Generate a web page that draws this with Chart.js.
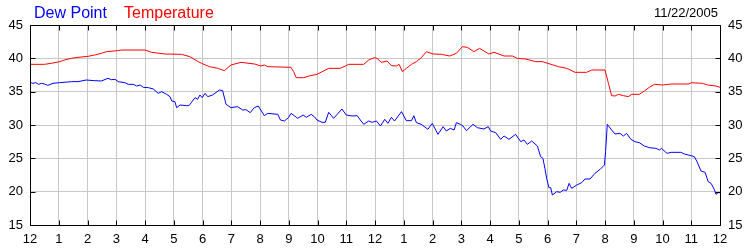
<!DOCTYPE html>
<html>
<head>
<meta charset="utf-8">
<title>Dew Point / Temperature</title>
<script src="https://cdn.jsdelivr.net/npm/chart.js@4"></script>
<style>
  body{margin:0;background:#fff;}
  #wrap{width:750px;height:250px;}
</style>
</head>
<body>
<div id="wrap"><canvas id="weatherChart" width="750" height="250"></canvas></div>
<script>
'use strict';

// hour labels for the x axis (midnight to midnight)
let hourLabels=['12','1','2','3','4','5','6','7','8','9','10','11','12','1','2','3','4','5','6','7','8','9','10','11','12'];
let yTicks=[15,20,25,30,35,40,45];
let dateText='11/22/2005';

// Temperature readings (hours since midnight, deg F)
let tempHours=[0,0.5,0.74,1.03,1.2,1.44,1.67,2.02,2.25,2.48,2.66,3.04,3.19,4.0,4.23,4.7,5.27,5.56,5.85,5.97,
  6.24,6.53,6.76,6.99,7.34,7.81,8.03,8.15,8.27,9.08,9.17,9.26,9.52,9.75,9.98,10.21,10.39,10.79,10.97,11.08,
  11.61,11.78,11.98,12.07,12.22,12.42,12.57,12.74,12.84,12.95,13.09,13.27,13.44,13.61,13.79,14.02,14.31,14.6,14.83,15.04,
  15.21,15.44,15.64,15.96,16.14,16.49,16.78,16.95,17.24,17.59,17.82,18.05,18.38,18.67,18.96,19.36,19.54,20.0,20.12,20.23,
  20.35,20.46,20.64,20.81,20.93,21.19,21.37,21.54,21.72,22.0,22.3,22.92,23.0,23.39,23.57,23.86,24.0];
let temperature=[39.1,39.1,39.25,39.5,39.75,40.0,40.15,40.3,40.5,40.75,41.0,41.15,41.25,41.25,40.9,40.65,40.6,40.25,39.5,39.25,
  38.75,38.5,38.15,39.0,39.4,39.15,38.85,39.0,38.75,38.65,38.0,37.1,37.1,37.4,37.6,38.1,38.5,38.5,38.85,39.1,
  39.1,39.75,40.1,40.0,39.4,39.6,38.9,38.85,39.1,38.0,38.5,39.1,39.5,40.1,41.0,40.65,40.6,40.35,40.75,41.75,
  41.65,41.0,41.5,40.65,40.9,40.35,40.35,40.0,39.9,39.5,39.5,39.2,38.75,38.5,37.9,37.9,38.25,38.25,36.25,34.4,
  34.35,34.6,34.4,34.25,34.6,34.6,35.1,35.65,36.1,36.0,36.15,36.15,36.35,36.25,36.0,35.85,35.65];

// Dew point readings (hours since midnight, deg F)
let dewHours=[0,0.1,0.2,0.3,0.4,0.5,0.62,0.8,1.03,1.44,1.67,1.95,2.25,2.48,2.71,2.83,2.96,3.07,3.3,3.42,
  3.59,3.71,3.83,3.94,4.12,4.29,4.46,4.58,4.75,4.87,4.93,5.04,5.1,5.22,5.45,5.53,5.74,5.83,5.91,5.99,
  6.09,6.18,6.35,6.59,6.7,6.82,6.99,7.22,7.4,7.51,7.66,7.8,7.94,8.15,8.27,8.62,8.71,8.85,8.99,9.08,
  9.19,9.31,9.5,9.61,9.78,9.89,9.98,10.16,10.27,10.39,10.56,10.85,11.0,11.2,11.38,11.49,11.61,11.78,11.9,12.05,
  12.19,12.34,12.45,12.57,12.68,12.92,13.09,13.27,13.35,13.44,13.61,13.84,13.99,14.19,14.37,14.48,14.62,14.75,14.83,14.97,
  15.06,15.18,15.41,15.56,15.79,15.94,16.02,16.2,16.37,16.49,16.66,16.89,17.07,17.18,17.3,17.45,17.65,17.76,17.84,17.91,
  17.97,18.05,18.11,18.17,18.32,18.44,18.55,18.67,18.75,18.84,19.02,19.19,19.3,19.48,19.65,19.83,19.98,20.02,20.08,20.23,
  20.35,20.52,20.64,20.75,20.9,21.04,21.19,21.37,21.54,21.77,21.89,21.97,22.06,22.16,22.3,22.64,22.76,22.99,23.11,23.2,
  23.34,23.48,23.59,23.69,23.8,23.86,23.94,24.0];
let dewPoint=[36.4,36.25,36.35,36.1,36.25,36.15,35.95,36.25,36.35,36.5,36.5,36.75,36.65,36.6,37.0,36.8,36.85,36.5,36.35,36.1,
  36.1,35.85,36.0,35.65,35.6,35.4,34.75,35.0,34.6,34.25,33.6,33.5,32.6,33.0,32.9,32.9,34.1,33.85,34.5,34.1,
  34.75,34.25,34.5,35.25,35.15,33.1,32.6,32.75,32.25,32.3,31.85,32.6,32.85,31.4,31.75,31.6,30.75,30.6,31.1,31.75,
  31.4,31.0,31.5,31.15,31.6,31.25,30.75,30.4,30.4,31.9,31.0,32.4,31.5,31.35,31.4,30.75,30.1,30.6,30.4,30.6,
  29.85,30.85,30.25,31.15,30.6,32.0,30.65,30.65,31.4,30.35,30.1,29.35,30.25,28.6,29.75,29.1,29.5,29.25,30.35,30.1,
  29.85,29.15,30.1,29.6,29.4,29.75,29.1,28.85,27.85,28.35,27.85,28.6,27.5,27.75,27.1,27.6,26.85,25.25,25.0,23.5,
  22.0,20.6,20.6,19.5,20.0,19.9,20.25,20.2,21.25,20.5,21.0,21.35,21.9,21.9,22.75,23.35,24.0,26.0,30.1,29.25,
  28.65,28.75,28.35,28.75,27.85,27.5,27.35,26.85,26.6,26.5,26.25,26.5,26.1,25.75,25.9,25.9,25.65,25.4,25.25,24.5,
  23.1,22.9,21.5,21.25,20.35,19.6,19.85,19.85];

let fontName='"Liberation Sans", Arial, sans-serif';

function toPoints(hours, values){
  let pts=[];
  for(let i=0;i<hours.length;i++){
    pts.push({x:hours[i], y:values[i]});
  }
  return pts;
}

// frame, little inside tick marks and the header texts
let framePlugin={
  id:'frame',
  afterDraw(chart){
    let ctx=chart.ctx;
    let area=chart.chartArea;
    let xs=chart.scales.x;
    let ys=chart.scales.y;
    ctx.save();
    ctx.strokeStyle='#000';
    ctx.lineWidth=1;
    let l=Math.round(area.left)+0.5;
    let r=Math.round(area.right)+0.5;
    let t=Math.round(area.top)+0.5;
    let b=Math.round(area.bottom)+0.5;
    ctx.beginPath();
    ctx.rect(l, t, r-l, b-t);
    for(let i=0;i<hourLabels.length;i++){
      let px=Math.round(xs.getPixelForValue(i))+0.5;
      ctx.moveTo(px, b); ctx.lineTo(px, b-5);
      ctx.moveTo(px, t); ctx.lineTo(px, t+5);
    }
    for(let i=0;i<yTicks.length;i++){
      let py=Math.round(ys.getPixelForValue(yTicks[i]))+0.5;
      ctx.moveTo(l, py); ctx.lineTo(l+5, py);
      ctx.moveTo(r, py); ctx.lineTo(r-5, py);
    }
    ctx.stroke();

    ctx.textBaseline='alphabetic';
    ctx.font='16px '+fontName;
    ctx.textAlign='left';
    ctx.fillStyle='#0000ff';
    ctx.fillText('Dew Point', 34, 17.5);
    ctx.fillStyle='#ff0000';
    ctx.fillText('Temperature', 124, 17.5);
    ctx.font='13px '+fontName;
    ctx.fillStyle='#000';
    ctx.textAlign='right';
    ctx.fillText(dateText, 718, 17);
    ctx.restore();
  }
};

let canvas=document.getElementById('weatherChart').getContext('2d');

let weatherChart=new Chart(canvas, {
  type:'line',
  data:{
    datasets:[{
      label:'Dew Point',
      data:toPoints(dewHours, dewPoint),
      borderColor:'#0000ff',
      borderWidth:1,
      pointRadius:0,
      tension:0,
      yAxisID:'y'
    },{
      label:'Temperature',
      data:toPoints(tempHours, temperature),
      borderColor:'#ff0000',
      borderWidth:1,
      pointRadius:0,
      tension:0,
      yAxisID:'y'
    }]
  },
  options:{
    responsive:false,
    animation:false,
    devicePixelRatio:1,
    layout:{padding:{top:25, left:0, right:0, bottom:0}},
    plugins:{legend:{display:false}, tooltip:{enabled:false}},
    scales:{
      x:{
        type:'linear',
        min:0,
        max:24,
        border:{display:false},
        grid:{color:'#c8c8c8', lineWidth:1, drawTicks:false},
        ticks:{
          stepSize:1,
          autoSkip:false,
          maxRotation:0,
          padding:7,
          color:'#000',
          font:{family:fontName, size:13},
          callback:function(value, index){ return hourLabels[index]; }
        },
        afterFit:function(axis){ axis.height=25; }
      },
      y:{
        position:'left',
        min:15,
        max:45,
        border:{display:false},
        grid:{color:'#c8c8c8', lineWidth:1, drawTicks:false},
        ticks:{stepSize:5, padding:7, color:'#000', font:{family:fontName, size:13}},
        afterFit:function(axis){ axis.width=30; }
      },
      y2:{
        position:'right',
        min:15,
        max:45,
        border:{display:false},
        grid:{display:false, drawTicks:false},
        ticks:{stepSize:5, padding:8, color:'#000', font:{family:fontName, size:13}},
        afterFit:function(axis){ axis.width=30; }
      }
    }
  },
  plugins:[framePlugin]
});
</script>
</body>
</html>
